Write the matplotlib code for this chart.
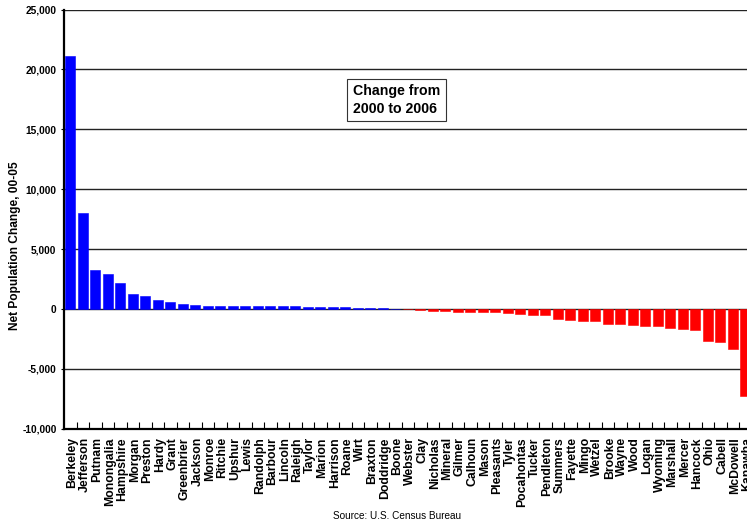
import numpy as np
import matplotlib
matplotlib.use('Agg')
import matplotlib.pyplot as plt
import matplotlib.transforms as mtransforms

# データ (2000-2006 郡別人口増減)
counties = [
    'Berkeley', 'Jefferson', 'Putnam', 'Monongalia', 'Hampshire', 'Morgan',
    'Preston', 'Hardy', 'Grant', 'Greenbrier', 'Jackson', 'Monroe', 'Ritchie',
    'Upshur', 'Lewis', 'Randolph', 'Barbour', 'Lincoln', 'Raleigh', 'Taylor',
    'Marion', 'Harrison', 'Roane', 'Wirt', 'Braxton', 'Doddridge', 'Boone',
    'Webster', 'Clay', 'Nicholas', 'Mineral', 'Gilmer', 'Calhoun', 'Mason',
    'Pleasants', 'Tyler', 'Pocahontas', 'Tucker', 'Pendleton', 'Summers',
    'Fayette', 'Mingo', 'Wetzel', 'Brooke', 'Wayne', 'Wood', 'Logan',
    'Wyoming', 'Marshall', 'Mercer', 'Hancock', 'Ohio', 'Cabell', 'McDowell',
    'Kanawha',
]
net_change = [
    21100, 8000, 3220, 2880, 2150, 1290,
    1060, 730, 620, 390, 370, 290, 280,
    270, 250, 240, 230, 220, 210, 200,
    190, 180, 150, 120, 90, 60, 20,
    -10, -80, -140, -170, -220, -230, -250,
    -260, -330, -390, -470, -500, -810,
    -920, -980, -1010, -1260, -1290, -1340, -1400,
    -1420, -1560, -1680, -1760, -2710, -2790, -3320,
    -7300,
]
y_ticks = [-10000, -5000, 0, 5000, 10000, 15000, 20000, 25000]

plt.rcParams['font.family'] = ['Liberation Sans', 'DejaVu Sans']

fig = plt.figure(figsize=(7.47, 5.23), dpi=100)
# 右端はKanawhaが切れている (元画像どおり)
ax = fig.add_axes([64.2 / 747, 1 - 428.8 / 523, 687.5 / 747, (428.8 - 9.5) / 523])

x = np.arange(len(counties))
colors = ['#0000ff' if v >= 0 else '#ff0000' for v in net_change]
ax.bar(x, net_change, width=0.8, color=colors, edgecolor=colors, linewidth=0.4, zorder=3)

ax.set_xlim(-0.5, len(counties) - 0.5)
ax.set_ylim(-10000, 25000)
ax.set_yticks(y_ticks)
ax.set_yticklabels([f'{v:,}' for v in y_ticks], fontsize=7.3, fontweight='bold')
for v in y_ticks:
    ax.axhline(v, color='#222222', linewidth=1.0, zorder=2)

ax.set_xticks(x)
ax.set_xticklabels(counties, rotation=90, fontsize=8.8, fontweight='bold', va='top')
ax.set_xticks(np.arange(0.5, len(counties), 1), minor=True)
ax.tick_params(axis='x', which='major', length=0, pad=6)
ax.tick_params(axis='x', which='minor', direction='in', length=5, width=0.8)
ax.tick_params(axis='y', direction='out', length=2.5, width=0.8, pad=3)

# ラベルを少し右へずらす
shift = mtransforms.ScaledTranslation(2 / 100, 0, fig.dpi_scale_trans)
for lbl in ax.get_xticklabels():
    lbl.set_transform(lbl.get_transform() + shift)

for side in ['top', 'right']:
    ax.spines[side].set_visible(False)
ax.spines['left'].set_linewidth(1.6)
ax.spines['bottom'].set_linewidth(1.6)
ax.spines['bottom'].set_zorder(4)

# 縦軸ラベルは中央より少し下
fig.text(15 / 747, 1 - 246 / 523, 'Net Population Change, 00-05', rotation=90,
         fontsize=8.6, fontweight='bold', ha='center', va='center')

ax.text(353 / 747, 1 - 100 / 523, 'Change from\n2000 to 2006', transform=fig.transFigure,
        fontsize=10.2, fontweight='bold', ha='left', va='center', linespacing=1.3,
        bbox=dict(boxstyle='square,pad=0.4', facecolor='white', edgecolor='#333333', linewidth=0.8),
        zorder=5)

fig.text(397 / 747, 1 - 516 / 523, 'Source: U.S. Census Bureau', fontsize=7.2,
         ha='center', va='center')

plt.savefig('out.png', dpi=100)
plt.close()
